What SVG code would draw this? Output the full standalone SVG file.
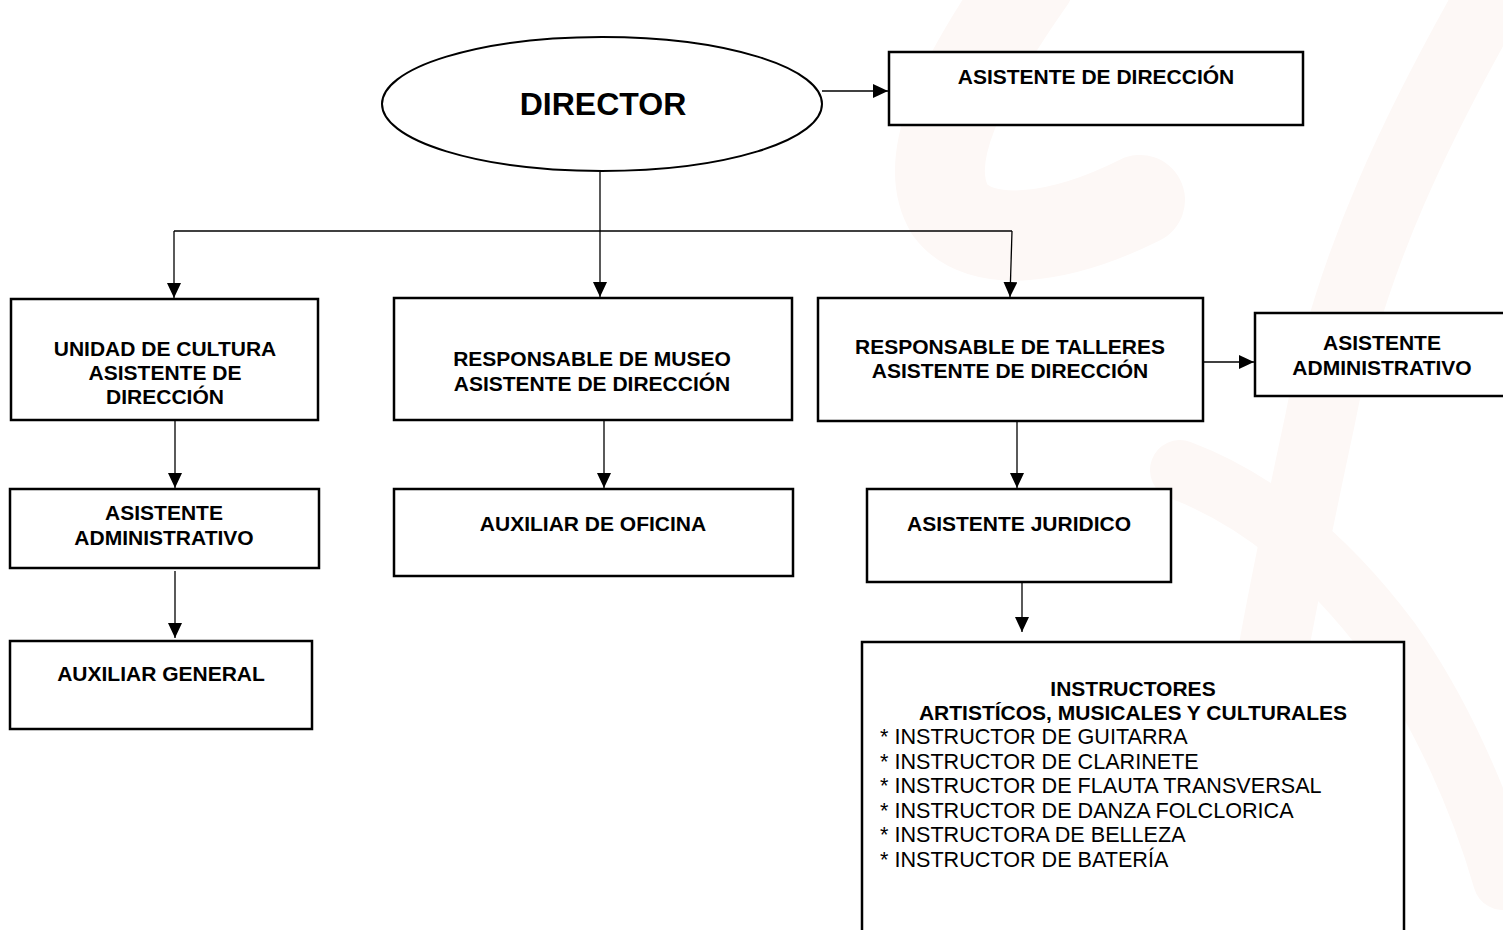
<svg xmlns="http://www.w3.org/2000/svg" width="1503" height="930" viewBox="0 0 1503 930">
<style>
.box{fill:#fff;stroke:#000;stroke-width:2.5}
.b{font-family:"Liberation Sans",Arial,sans-serif;font-weight:bold;font-size:21px;fill:#000;text-anchor:middle}
.r{font-family:"Liberation Sans",Arial,sans-serif;font-size:21.6px;fill:#000}
.c{fill:none;stroke:#000;stroke-width:1.3}
.wm{fill:none;stroke:#fdf8f6;stroke-linecap:round}
</style>
<defs>
<marker id="ah" viewBox="0 0 15 14" refX="15" refY="7" markerWidth="15" markerHeight="14" markerUnits="userSpaceOnUse" orient="auto">
<path d="M0,0 L15,7 L0,14 Z" fill="#000"/>
</marker>
</defs>
<rect width="1503" height="930" fill="#fff"/>
<g id="watermark">
<path class="wm" stroke-width="90" d="M1030 -20 C 960 80, 920 160, 950 210 C 980 250, 1060 240, 1140 200"/>
<path class="wm" stroke-width="70" d="M1500 -20 C 1420 120, 1350 260, 1320 420 C 1290 560, 1260 700, 1230 930"/>
<path class="wm" stroke-width="60" d="M1180 470 C 1260 500, 1330 560, 1390 640 C 1440 710, 1480 800, 1503 880"/>
</g>
<g id="connectors">
<line class="c" x1="822" y1="91" x2="888" y2="91" marker-end="url(#ah)"/>
<polyline class="c" points="600,172 600,231"/>
<polyline class="c" points="174,231 1012,231"/>
<line class="c" x1="174" y1="231" x2="174" y2="298" marker-end="url(#ah)"/>
<line class="c" x1="600" y1="231" x2="600" y2="297" marker-end="url(#ah)"/>
<line class="c" x1="1012" y1="231" x2="1010" y2="297" marker-end="url(#ah)"/>
<line class="c" x1="1203" y1="362" x2="1254" y2="362" marker-end="url(#ah)"/>
<line class="c" x1="175" y1="421" x2="175" y2="488" marker-end="url(#ah)"/>
<line class="c" x1="175" y1="571" x2="175" y2="638" marker-end="url(#ah)"/>
<line class="c" x1="604" y1="421" x2="604" y2="488" marker-end="url(#ah)"/>
<line class="c" x1="1017" y1="421" x2="1017" y2="488" marker-end="url(#ah)"/>
<line class="c" x1="1022" y1="583" x2="1022" y2="632" marker-end="url(#ah)"/>
</g>
<g id="director">
<ellipse cx="602" cy="104" rx="220" ry="67" fill="#fff" stroke="#000" stroke-width="2"/>
<text class="b" x="603" y="115" style="font-size:32px">DIRECTOR</text>
</g>
<g id="asistente-direccion">
<rect class="box" x="889" y="52" width="414" height="73"/>
<text class="b" x="1096" y="84">ASISTENTE DE DIRECCIÓN</text>
</g>
<g id="unidad-cultura">
<rect class="box" x="11" y="299" width="307" height="121"/>
<text class="b" x="165" y="356">UNIDAD DE CULTURA</text>
<text class="b" x="165" y="380">ASISTENTE DE</text>
<text class="b" x="165" y="404">DIRECCIÓN</text>
</g>
<g id="responsable-museo">
<rect class="box" x="394" y="298" width="398" height="122"/>
<text class="b" x="592" y="366">RESPONSABLE DE MUSEO</text>
<text class="b" x="592" y="391">ASISTENTE DE DIRECCIÓN</text>
</g>
<g id="responsable-talleres">
<rect class="box" x="818" y="298" width="385" height="123"/>
<text class="b" x="1010" y="354">RESPONSABLE DE TALLERES</text>
<text class="b" x="1010" y="378">ASISTENTE DE DIRECCIÓN</text>
</g>
<g id="asistente-admin-der">
<rect class="box" x="1255" y="313" width="260" height="83"/>
<text class="b" x="1382" y="350">ASISTENTE</text>
<text class="b" x="1382" y="375">ADMINISTRATIVO</text>
</g>
<g id="asistente-admin-izq">
<rect class="box" x="10" y="489" width="309" height="79"/>
<text class="b" x="164" y="520">ASISTENTE</text>
<text class="b" x="164" y="545">ADMINISTRATIVO</text>
</g>
<g id="auxiliar-general">
<rect class="box" x="10" y="641" width="302" height="88"/>
<text class="b" x="161" y="681">AUXILIAR GENERAL</text>
</g>
<g id="auxiliar-oficina">
<rect class="box" x="394" y="489" width="399" height="87"/>
<text class="b" x="593" y="531">AUXILIAR DE OFICINA</text>
</g>
<g id="asistente-juridico">
<rect class="box" x="867" y="489" width="304" height="93"/>
<text class="b" x="1019" y="531">ASISTENTE JURIDICO</text>
</g>
<g id="instructores">
<rect class="box" x="862" y="642" width="542" height="310"/>
<text class="b" x="1133" y="696">INSTRUCTORES</text>
<text class="b" x="1133" y="720">ARTISTÍCOS, MUSICALES Y CULTURALES</text>
<text class="r" x="880" y="744">* INSTRUCTOR DE GUITARRA</text>
<text class="r" x="880" y="769">* INSTRUCTOR DE CLARINETE</text>
<text class="r" x="880" y="793">* INSTRUCTOR DE FLAUTA TRANSVERSAL</text>
<text class="r" x="880" y="818">* INSTRUCTOR DE DANZA FOLCLORICA</text>
<text class="r" x="880" y="842">* INSTRUCTORA DE BELLEZA</text>
<text class="r" x="880" y="867">* INSTRUCTOR DE BATERÍA</text>
</g>
</svg>
